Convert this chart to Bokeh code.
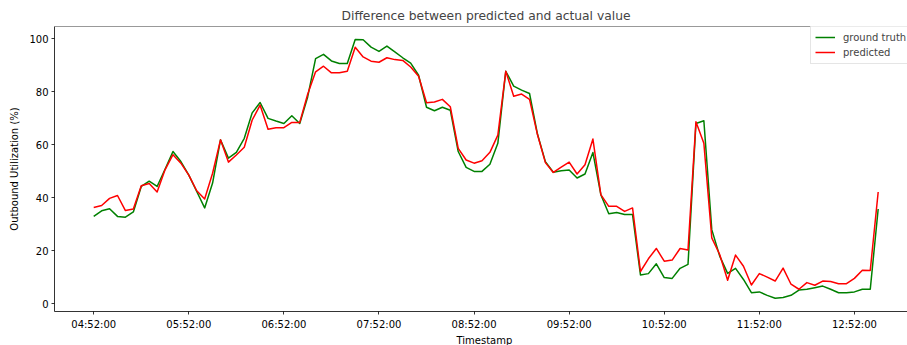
import pandas as pd
from bokeh.plotting import figure
from bokeh.models import FixedTicker, DatetimeTickFormatter, Range1d, Span, Title
from bokeh.embed import file_html
from bokeh.resources import INLINE

start_time = "2023-01-01 04:52:00"
n_points = 100
step = "5min"

ground_truth = [
    32.9, 35.0, 35.8, 32.9, 32.6, 34.6, 44.2, 46.2, 44.2, 50.7,
    57.4, 53.6, 48.5, 42.3, 36.1, 45.5, 61.8, 54.9, 57.1, 62.4,
    72.0, 75.9, 69.9, 68.9, 68.0, 70.9, 68.0, 78.0, 92.5, 94.1,
    91.6, 90.6, 90.6, 99.7, 99.6, 96.8, 95.2, 97.2, 95.0, 92.8,
    90.8, 86.2, 74.1, 72.8, 74.1, 73.0, 57.4, 51.4, 49.9, 49.9,
    52.6, 60.5, 87.7, 82.1, 80.6, 79.3, 64.0, 53.6, 49.6, 50.1,
    50.4, 47.4, 48.9, 57.0, 41.1, 33.9, 34.4, 33.6, 33.6, 10.8,
    11.3, 15.0, 9.8, 9.5, 13.3, 14.8, 68.0, 69.0, 27.9, 17.9,
    11.4, 13.3, 9.1, 4.1, 4.4, 3.1, 2.0, 2.3, 3.1, 5.1,
    5.4, 6.0, 6.6, 5.4, 4.1, 4.1, 4.4, 5.4, 5.4, 35.7,
]

predicted = [
    36.3, 37.0, 39.7, 40.8, 35.1, 35.7, 44.5, 45.3, 42.1, 50.5,
    56.2, 53.0, 48.5, 42.6, 39.5, 49.2, 61.8, 53.4, 56.1, 59.0,
    69.3, 74.9, 65.8, 66.4, 66.4, 68.4, 68.4, 79.0, 87.5, 89.6,
    87.1, 87.1, 87.7, 96.8, 93.1, 91.5, 91.1, 92.8, 92.1, 91.8,
    89.3, 85.8, 75.8, 76.1, 77.1, 74.3, 58.6, 54.2, 53.0, 53.9,
    57.1, 63.6, 87.7, 78.3, 79.1, 77.1, 63.8, 53.2, 49.5, 51.5,
    53.4, 48.9, 52.4, 62.1, 41.1, 36.7, 36.7, 34.8, 36.1, 12.1,
    16.9, 20.8, 16.0, 16.4, 20.8, 20.2, 68.6, 60.5, 24.8, 18.5,
    8.8, 18.3, 14.1, 7.0, 11.3, 10.0, 8.5, 13.4, 7.3, 5.4,
    7.9, 6.9, 8.5, 8.3, 7.5, 7.5, 9.5, 12.6, 12.5, 42.1,
]

tick_labels = ["04:52:00", "05:52:00", "06:52:00", "07:52:00", "08:52:00",
               "09:52:00", "10:52:00", "11:52:00", "12:52:00"]
y_ticks = [0, 20, 40, 60, 80, 100]

timestamps = pd.date_range(start_time, periods=n_points, freq=step)
day = start_time.split(" ")[0]
tick_ms = [pd.Timestamp(f"{day} {t}").value // 10**6 for t in tick_labels]

FONT = "DejaVu Sans"

x_start = timestamps[0] - pd.Timedelta(minutes=24.75)
x_end = timestamps[0] + pd.Timedelta(minutes=513.5)

p = figure(width=907, height=345, x_axis_type="datetime",
           output_backend="svg", toolbar_location=None,
           x_range=Range1d(x_start, x_end), y_range=Range1d(-3.0, 104.6),
           min_border_left=54, min_border_right=0, min_border_top=26,
           min_border_bottom=33)

p.line(timestamps, ground_truth, color="green", line_width=1.5,
       line_join="round", legend_label="ground truth")
p.line(timestamps, predicted, color="red", line_width=1.5,
       line_join="round", legend_label="predicted")

p.title.text = "Difference between predicted and actual value"
p.title.text_font = FONT
p.title.text_font_size = "12.3px"
p.title.text_font_style = "normal"
p.title.align = "left"
p.title.offset = 287
p.title.standoff = 8

p.xgrid.grid_line_color = None
p.ygrid.grid_line_color = None
p.outline_line_color = None
p.add_layout(Span(location=104.6, dimension="width", line_color="black", line_width=0.8))

p.xaxis.ticker = FixedTicker(ticks=tick_ms)
fmt = "%H:%M:%S"
p.xaxis.formatter = DatetimeTickFormatter(
    milliseconds=fmt, seconds=fmt, minsec=fmt, minutes=fmt, hourmin=fmt,
    hours=fmt, days=fmt, months=fmt, years=fmt)
p.yaxis.ticker = FixedTicker(ticks=y_ticks)
p.yaxis.axis_label = "Outbound Utilization (%)"

for ax in (p.xaxis, p.yaxis):
    ax.axis_label_text_font = FONT
    ax.axis_label_text_font_size = "10px"
    ax.axis_label_text_font_style = "normal"
    ax.axis_label_text_color = "black"
    ax.major_label_text_font = FONT
    ax.major_label_text_font_size = "10px"
    ax.major_label_text_color = "black"
    ax.axis_line_color = "black"
    ax.axis_line_width = 0.8
    ax.major_tick_line_color = "black"
    ax.major_tick_line_width = 0.8
    ax.major_tick_out = 3
    ax.major_tick_in = 0
    ax.minor_tick_line_color = None
    ax.major_label_standoff = 3
p.xaxis.major_label_standoff = 4
p.yaxis.axis_label_standoff = 6

x_title = Title(text="Timestamp", text_font=FONT, text_font_size="10px",
                text_font_style="normal", text_color="black",
                align="left", offset=402, standoff=0)
p.add_layout(x_title, "below")

leg = p.legend[0]
leg.location = (756, 247)
leg.label_text_font = FONT
leg.label_text_font_size = "10px"
leg.glyph_width = 20
leg.glyph_height = 14
leg.label_height = 14
leg.label_standoff = 8
leg.spacing = 1
leg.padding = 4
leg.margin = 0
leg.border_line_color = "#cccccc"
leg.border_line_width = 1
leg.background_fill_alpha = 0.8

open("out.html", "w").write(file_html(p, INLINE))
